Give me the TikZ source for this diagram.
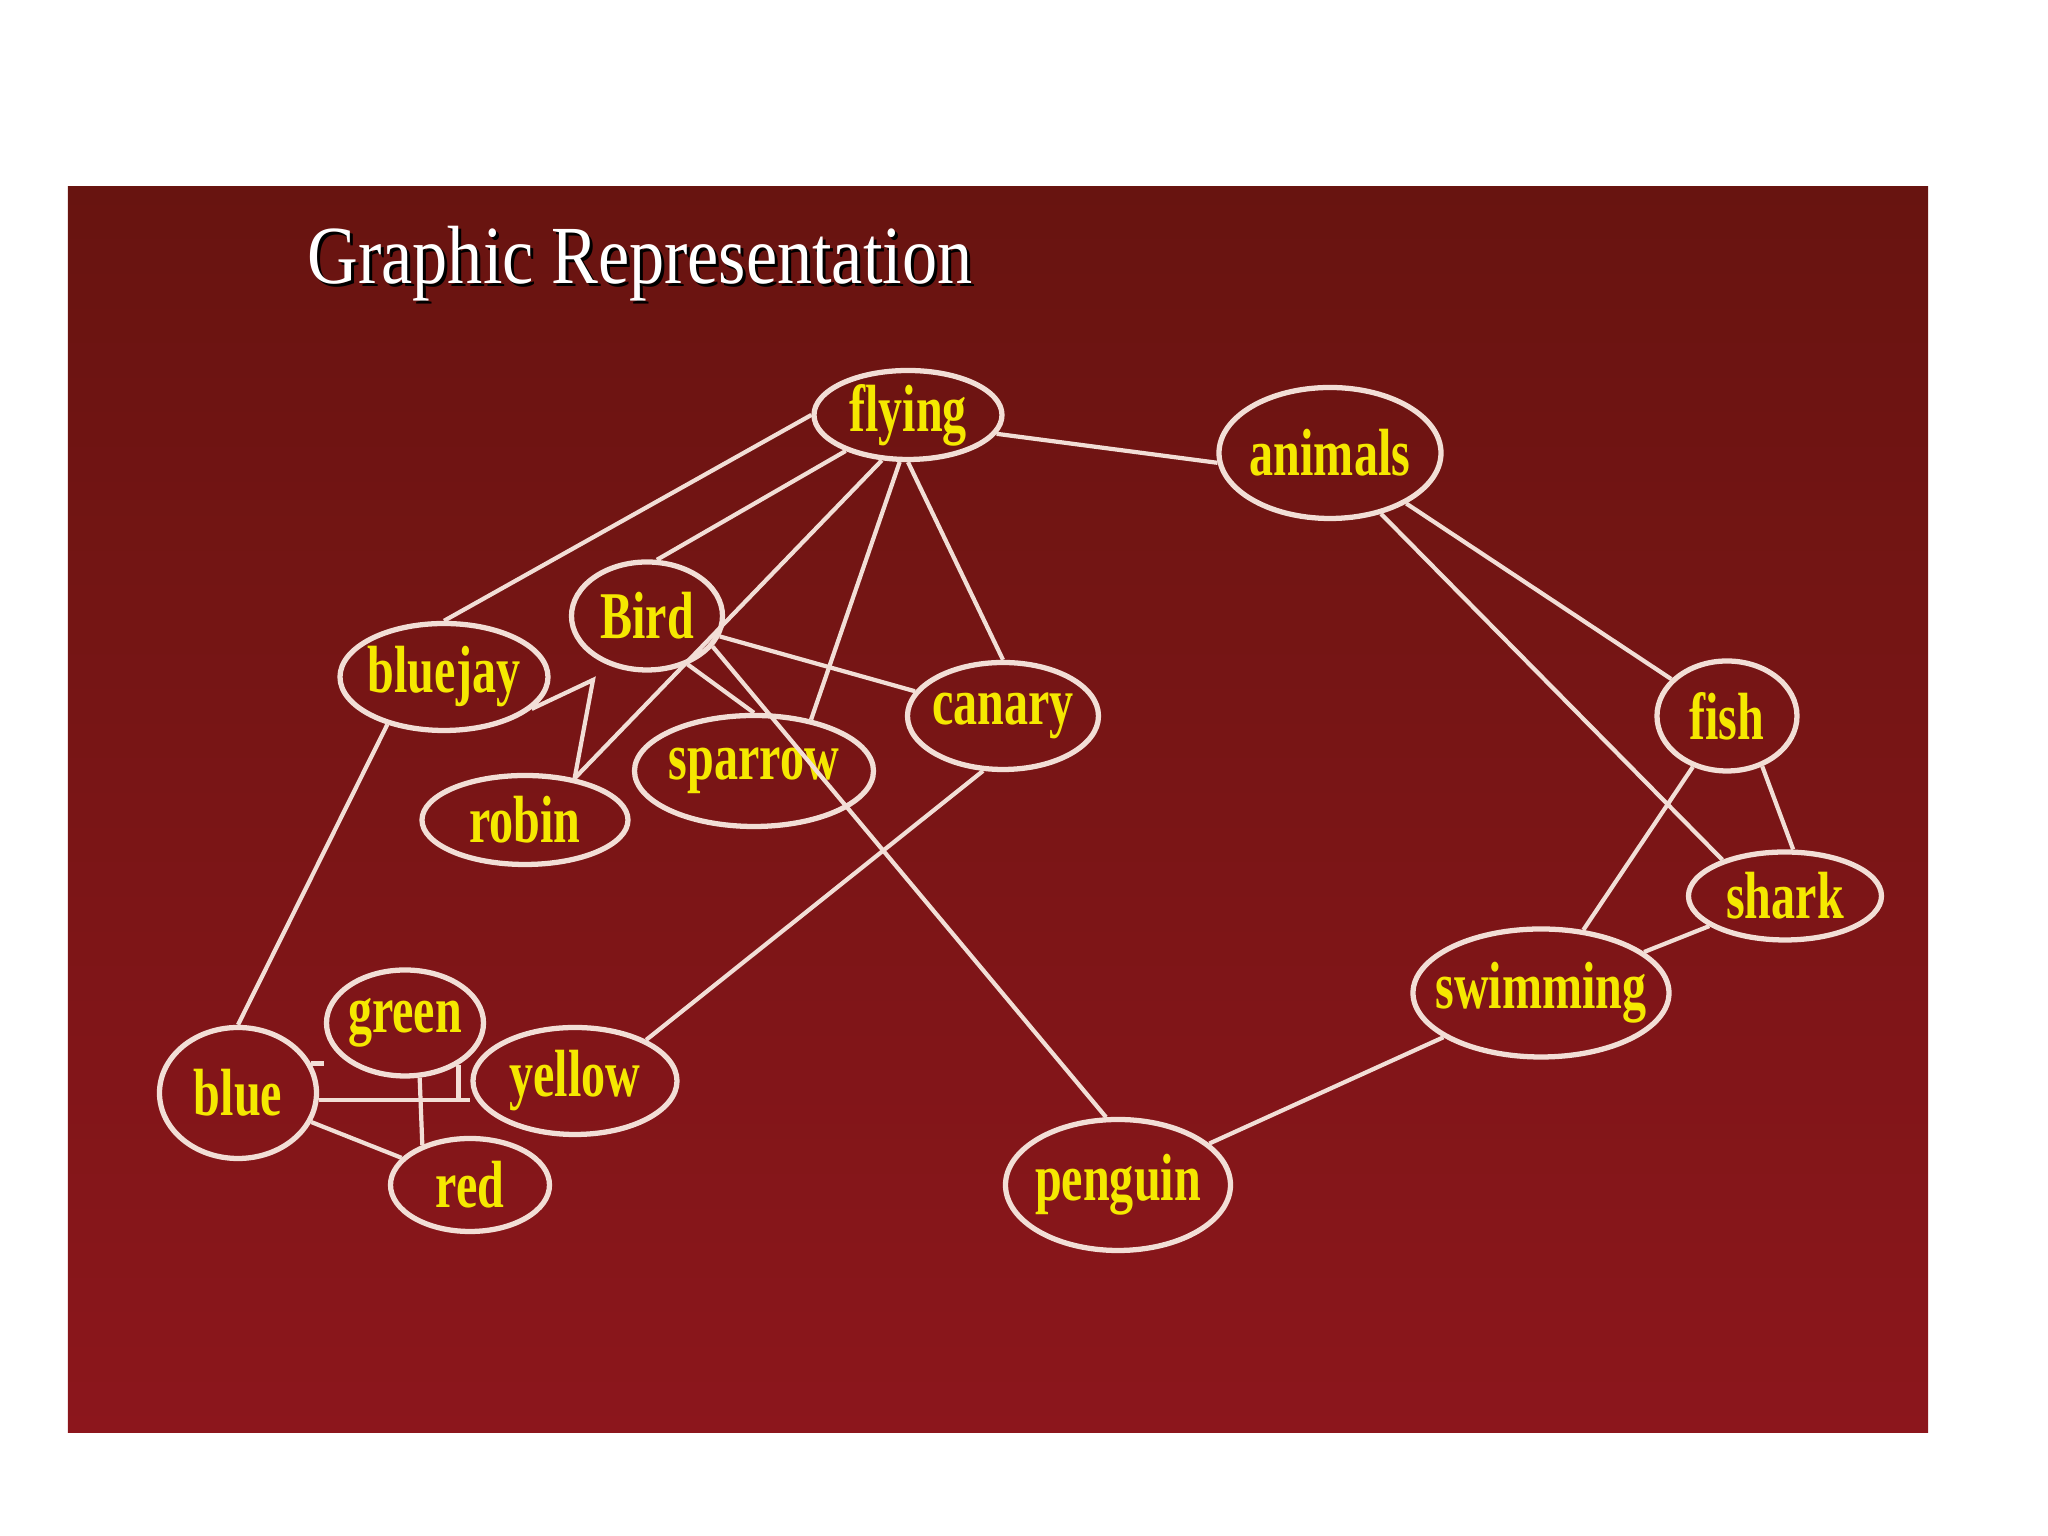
\documentclass[tikz,border=0pt]{standalone}
\usepackage{fontspec}
\usepackage{tikz}
\usetikzlibrary{shapes.geometric}
\newfontfamily\conceptfont[FakeStretch=0.72]{Liberation Serif}
\newfontfamily\headfont[FakeStretch=0.85]{Liberation Serif}
\definecolor{slidetop}{RGB}{104,20,16}
\definecolor{slidemid}{RGB}{128,21,24}
\definecolor{slidebot}{RGB}{140,22,28}
\definecolor{linkpink}{RGB}{242,222,214}
\definecolor{wordyellow}{RGB}{245,232,0}
\newcommand{\ctext}[1]{\makebox[0pt]{#1}}

\begin{document}
\begin{tikzpicture}[
  concept/.style 2 args={ellipse,draw=linkpink,line width=1.5pt,minimum width=#1cm,minimum height=#2cm,inner sep=0pt,text=wordyellow,font=\conceptfont\bfseries\fontsize{19}{19}\selectfont},
  link/.style={draw=linkpink,line width=1.2pt},
  heading/.style={font=\headfont\fontsize{23.5}{24}\selectfont,inner sep=0pt}]
\useasboundingbox (0,0) rectangle (20.48,15.36);
\shade[top color=slidetop,middle color=slidemid,bottom color=slidebot] (0.68,1.03) rectangle (19.28,13.49);
% title
\node[heading,text=black] (titleshadow) at (6.43,12.69) {Graphic Representation};
\node[heading,text=white] (title) at (6.40,12.72) {Graphic Representation};
% birds
\node[concept={1.88}{0.89}] (flying) at (9.08,11.21) {\ctext{flying}};
\node[concept={2.22}{1.31}] (animals) at (13.30,10.83) {\ctext{animals}};
\node[concept={1.51}{1.08}] (Bird) at (6.47,9.20) {\ctext{Bird}};
\node[concept={2.08}{1.07}] (bluejay) at (4.44,8.59) {\ctext{bluejay}};
\node[concept={1.91}{1.07}] (canary) at (10.03,8.20) {\ctext{canary}};
\node[concept={2.39}{1.11}] (sparrow) at (7.54,7.65) {\ctext{sparrow}};
\node[concept={2.06}{0.89}] (robin) at (5.25,7.16) {\ctext{robin}};
\node[concept={2.25}{1.31}] (penguin) at (11.18,3.51) {\ctext{penguin}};
% fish
\node[concept={1.40}{1.10}] (fish) at (17.27,8.20) {\ctext{fish}};
\node[concept={1.93}{0.88}] (shark) at (17.85,6.40) {\ctext{shark}};
\node[concept={2.56}{1.28}] (swimming) at (15.41,5.43) {\ctext{swimming}};
% colours
\node[concept={1.57}{1.31}] (blue) at (2.38,4.43) {\ctext{blue}};
\node[concept={1.57}{1.06}] (green) at (4.05,5.13) {\ctext{green}};
\node[concept={2.04}{1.07}] (yellow) at (5.75,4.55) {\ctext{yellow}};
\node[concept={1.59}{0.93}] (red) at (4.70,3.51) {\ctext{red}};
\coordinate (birdfoot) at (5.93,8.56);

\draw[link] (flying.-12) -- (animals.185);
\draw[link] (flying.west) -- (bluejay.north);
\draw[link] (flying.210) -- (Bird.80);
\draw[link] (flying.240) -- (robin.40);
\draw[link] (flying.260) -- (sparrow.42);
\draw[link] (flying.south) -- (canary.north);
\draw[link] (Bird) -- (canary);
\draw[link] (Bird.-50) -- (sparrow.north);
\draw[link] (Bird.-25) -- (penguin.100);
\draw[link] (bluejay.-20) -- (birdfoot) -- (robin.40);
\draw[link] (bluejay.220) -- (blue.north);
\draw[link] (canary.250) -- (yellow.30);
\draw[link] (animals) -- (fish);
\draw[link] (animals.-50) -- (shark.150);
\draw[link] (fish) -- (swimming);
\draw[link] (fish.-55) -- (shark.80);
\draw[link] (shark) -- (swimming);
\draw[link] (swimming) -- (penguin);
\draw[link] (blue.22) -- (blue.22 -| green.west);
\draw[link] (blue.-5) -- (blue.-5 -| yellow.west);
\draw[link] (green.-75) -- (red.140);
\draw[link] (blue) -- (red);
\draw[link] (green.-38) -- (green.-38 |- blue.-5);
\end{tikzpicture}
\end{document}
